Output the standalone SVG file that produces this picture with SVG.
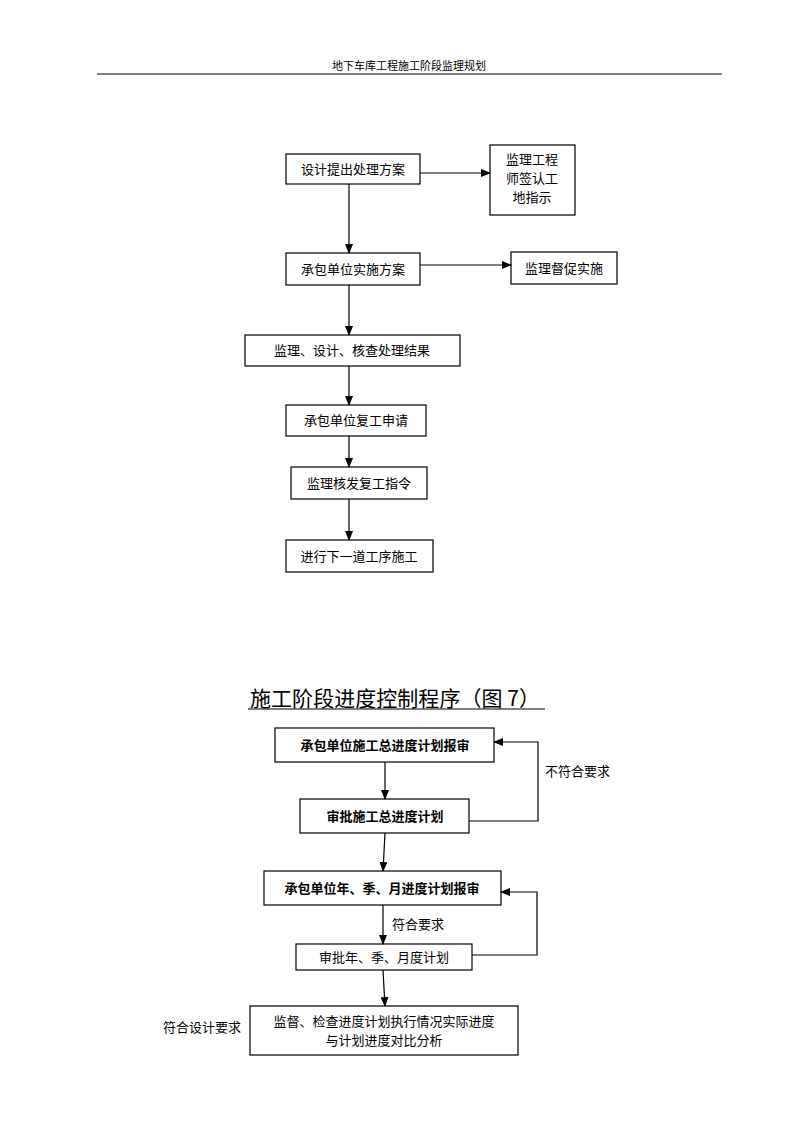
<svg xmlns="http://www.w3.org/2000/svg" width="800" height="1132" viewBox="0 0 800 1132">
<style>
text{font-family:"Noto Sans CJK SC","Liberation Serif",serif;fill:#000}
.t{font-size:13px;text-anchor:middle}
.b{font-weight:bold}
rect{fill:#fff;stroke:#000;stroke-width:1.2}
line,polyline{stroke:#000;stroke-width:1.2;fill:none}
</style>
<defs><marker id="a" markerWidth="10" markerHeight="8" refX="9" refY="4" orient="auto" markerUnits="userSpaceOnUse"><path d="M0,0L10,4L0,8z" fill="#000"/></marker></defs>
<rect x="0" y="0" width="800" height="1132" style="stroke:none"/>
<text x="409" y="70" style="font-size:11px;text-anchor:middle">地下车库工程施工阶段监理规划</text>
<line x1="97" y1="74" x2="722" y2="74"/>
<g id="n1"><rect x="286" y="154" width="134" height="30"/><text class="t" x="353" y="174">设计提出处理方案</text></g>
<g id="n2"><rect x="490" y="145" width="85" height="70"/><text class="t" x="532" y="164">监理工程</text><text class="t" x="532" y="183">师签认工</text><text class="t" x="532" y="202">地指示</text></g>
<g id="n3"><rect x="286" y="253" width="134" height="32"/><text class="t" x="353" y="274">承包单位实施方案</text></g>
<g id="n4"><rect x="511" y="252" width="106" height="32"/><text class="t" x="564" y="273">监理督促实施</text></g>
<g id="n5"><rect x="245" y="335" width="215" height="31"/><text class="t" x="352" y="355">监理、设计、核查处理结果</text></g>
<g id="n6"><rect x="286" y="405" width="140" height="31"/><text class="t" x="356" y="425">承包单位复工申请</text></g>
<g id="n7"><rect x="291" y="467" width="136" height="32"/><text class="t" x="359" y="488">监理核发复工指令</text></g>
<g id="n8"><rect x="286" y="540" width="147" height="32"/><text class="t" x="359" y="561">进行下一道工序施工</text></g>
<text x="250" y="706" style="font-size:21px" textLength="290" lengthAdjust="spacing">施工阶段进度控制程序（图 7）</text>
<line x1="248" y1="709" x2="545" y2="709"/>
<g id="m1"><rect x="275" y="728" width="219" height="34"/><text class="t b" x="385" y="750">承包单位施工总进度计划报审</text></g>
<g id="m2"><rect x="300" y="799" width="169" height="34"/><text class="t b" x="385" y="821">审批施工总进度计划</text></g>
<g id="m3"><rect x="264" y="871" width="237" height="34"/><text class="t b" x="382" y="893">承包单位年、季、月进度计划报审</text></g>
<g id="m4"><rect x="296" y="944" width="176" height="26"/><text class="t" x="384" y="962">审批年、季、月度计划</text></g>
<g id="m5"><rect x="250" y="1006" width="268" height="49"/><text class="t" x="384" y="1026">监督、检查进度计划执行情况实际进度</text><text class="t" x="384" y="1045">与计划进度对比分析</text></g>
<g id="labels">
<text x="545" y="776" style="font-size:13px">不符合要求</text>
<text x="392" y="929" style="font-size:13px">符合要求</text>
<text x="163" y="1032" style="font-size:13px">符合设计要求</text>
</g>
<g id="connectors">
<line x1="420" y1="173" x2="490" y2="173" marker-end="url(#a)"/>
<line x1="349" y1="184" x2="349" y2="253" marker-end="url(#a)"/>
<line x1="420" y1="265" x2="511" y2="265" marker-end="url(#a)"/>
<line x1="349" y1="285" x2="349" y2="335" marker-end="url(#a)"/>
<line x1="349" y1="366" x2="349" y2="405" marker-end="url(#a)"/>
<line x1="349" y1="436" x2="349" y2="467" marker-end="url(#a)"/>
<line x1="349" y1="499" x2="349" y2="540" marker-end="url(#a)"/>
<line x1="385" y1="762" x2="385" y2="799" marker-end="url(#a)"/>
<polyline points="469,821 538,821 538,742 494,742" marker-end="url(#a)"/>
<line x1="385" y1="833" x2="383" y2="871" marker-end="url(#a)"/>
<line x1="383" y1="905" x2="383" y2="944" marker-end="url(#a)"/>
<polyline points="472,955 537,955 537,892 501,892" marker-end="url(#a)"/>
<line x1="383" y1="970" x2="385" y2="1006" marker-end="url(#a)"/>
</g>
</svg>
